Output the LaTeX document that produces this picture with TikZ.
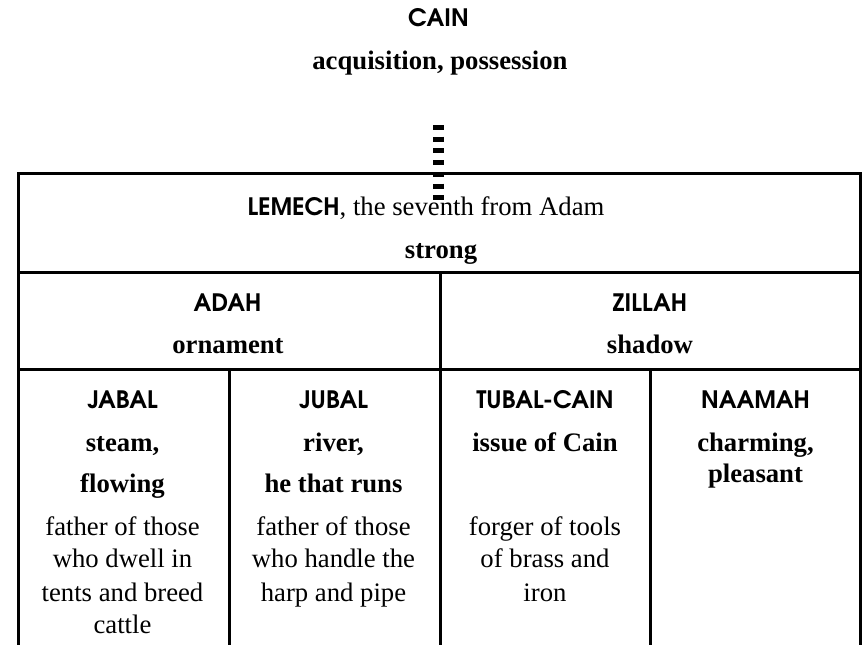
\documentclass[tikz,border=0pt]{standalone}
\usepackage{fontspec}
\setmainfont{Liberation Serif}
\setsansfont{TeX Gyre Adventor}
\newcommand\namefont{\sffamily\bfseries\fontsize{24}{28}\selectfont}
\tikzset{
  gridline/.style={line width=3pt, line cap=rect},
  nm/.style={font=\namefont, anchor=base, inner sep=0pt},
  mean/.style={font=\rmfamily\bfseries\fontsize{26.7}{32}\selectfont, anchor=base, inner sep=0pt},
  desc/.style={font=\rmfamily\fontsize{26.7}{32}\selectfont, anchor=base, inner sep=0pt},
  link/.style={line width=11pt, dash pattern=on 5pt off 6.7pt}
}
\begin{document}
\begin{tikzpicture}[x=1pt,y=-1pt]
\useasboundingbox (0,0) rectangle (863,645);
% table grid
\draw[gridline] (18,645) -- (18,173.5) -- (860,173.5) -- (860,645);
\draw[gridline] (18,272) -- (860,272);
\draw[gridline] (18,369) -- (860,369);
\draw[gridline] (440,272) -- (440,645);
\draw[gridline] (229.3,369) -- (229.3,645);
\draw[gridline] (650.7,369) -- (650.7,645);
% top
\node[nm] (cain) at (438.5,27) {CAIN};
\node[mean] (cainm) at (440,69) {acquisition, possession};
% lemech
\node[desc] (lemech) at (426,215) {{\namefont LEMECH}, the seventh from Adam};
\node[mean] (lemechm) at (441,258) {strong};
% wives
\node[nm] (adah) at (227.5,311) {ADAH};
\node[mean] (adahm) at (228,353) {ornament};
\node[nm] (zillah) at (650,311) {ZILLAH};
\node[mean] (zillahm) at (650,353) {shadow};
% children
\node[nm] (jabal) at (122.5,408) {JABAL};
\node[mean] (jabalm1) at (122.5,451.7) {steam,};
\node[mean] (jabalm2) at (122.5,492.7) {flowing};
\node[desc] (jabald1) at (122.5,535) {father of those};
\node[desc] (jabald2) at (122.5,567.7) {who dwell in};
\node[desc] (jabald3) at (122.5,601) {tents and breed};
\node[desc] (jabald4) at (122.5,633) {cattle};
\node[nm] (jubal) at (333.5,408) {JUBAL};
\node[mean] (jubalm1) at (333.5,451.7) {river,};
\node[mean] (jubalm2) at (333.5,492.7) {he that runs};
\node[desc] (jubald1) at (333.5,535) {father of those};
\node[desc] (jubald2) at (333.5,567.7) {who handle the};
\node[desc] (jubald3) at (333.5,601) {harp and pipe};
\node[nm] (tubal) at (545,408) {TUBAL-CAIN};
\node[mean] (tubalm1) at (545,451.7) {issue of Cain};
\node[desc] (tubald1) at (545,535) {forger of tools};
\node[desc] (tubald2) at (545,567.7) {of brass and};
\node[desc] (tubald3) at (545,601) {iron};
\node[nm] (naamah) at (755.5,408) {NAAMAH};
\node[mean] (naamahm1) at (755.5,451.7) {charming,};
\node[mean] (naamahm2) at (755.5,482.7) {pleasant};
% dashed descent line
\coordinate (linktop) at (438,125);
\coordinate (linkbot) at (438,200);
\draw[link] (linktop) -- (linkbot);
\end{tikzpicture}
\end{document}
